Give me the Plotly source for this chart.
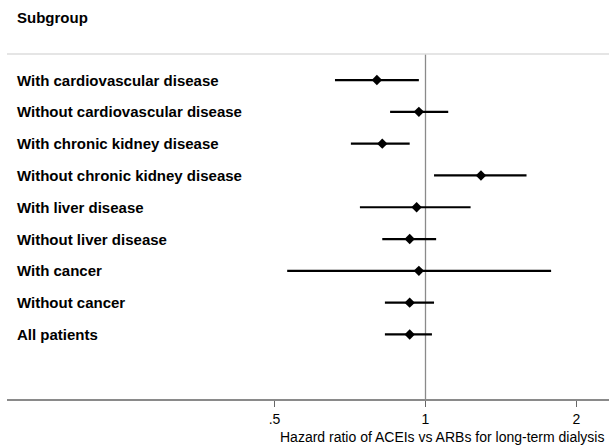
import math
import plotly.graph_objects as go

# Subgroup estimates: hazard ratio with 95% CI (ACEIs vs ARBs, long-term dialysis)
subgroups = [
    "With cardiovascular disease",
    "Without cardiovascular disease",
    "With chronic kidney disease",
    "Without chronic kidney disease",
    "With liver disease",
    "Without liver disease",
    "With cancer",
    "Without cancer",
    "All patients",
]
hr = [0.80, 0.97, 0.82, 1.29, 0.96, 0.93, 0.97, 0.93, 0.93]
ci_low = [0.66, 0.85, 0.71, 1.04, 0.74, 0.82, 0.53, 0.83, 0.83]
ci_high = [0.97, 1.11, 0.93, 1.59, 1.23, 1.05, 1.78, 1.04, 1.03]

tick_vals = [0.5, 1, 2]
tick_text = [".5", "1", "2"]

W, H = 609, 448
L, R, T, B = 7, 0, 54, 49

rows = list(range(len(subgroups)))
err_plus = [h - m for h, m in zip(ci_high, hr)]
err_minus = [m - l for m, l in zip(hr, ci_low)]

fig = go.Figure()
fig.add_trace(go.Scatter(
    x=hr, y=rows, mode="markers",
    marker=dict(symbol="diamond", size=8, color="black"),
    error_x=dict(type="data", symmetric=False, array=err_plus,
                 arrayminus=err_minus, width=0, thickness=2.2, color="black"),
    showlegend=False, hoverinfo="skip", cliponaxis=False,
))

# Reference line at HR = 1
fig.add_shape(type="line", xref="x", yref="paper", x0=1, x1=1, y0=0, y1=1,
              line=dict(color="#8a8a8a", width=1.3), layer="below")
# Header separator
fig.add_shape(type="line", xref="paper", yref="paper", x0=0, x1=1, y0=1, y1=1,
              line=dict(color="#dcdcdc", width=1.5))

font_family = "Liberation Sans, Arial, sans-serif"
pw = W - L - R
ph = H - T - B

for i, name in enumerate(subgroups):
    fig.add_annotation(x=(15 - L) / pw, xref="paper", y=i, yref="y",
                       text=f"<b>{name}</b>", showarrow=False,
                       xanchor="left", yanchor="middle",
                       font=dict(family=font_family, size=15, color="black"))

fig.add_annotation(x=(15 - L) / pw, xref="paper", y=1 + (T - 18) / ph, yref="paper",
                   text="<b>Subgroup</b>", showarrow=False,
                   xanchor="left", yanchor="middle",
                   font=dict(family=font_family, size=15, color="black"))

fig.add_annotation(x=(606 - L) / pw, xref="paper", y=-(437 - (H - B)) / ph, yref="paper",
                   text="Hazard ratio of ACEIs vs ARBs for long-term dialysis",
                   showarrow=False, xanchor="right", yanchor="middle",
                   font=dict(family=font_family, size=14, color="black"))

x_lo = 2 ** ((L - 425.5) / 151)
x_hi = 2 ** ((W - R - 425.5) / 151)

fig.update_layout(
    width=W, height=H,
    margin=dict(l=L, r=R, t=T, b=B, pad=0),
    paper_bgcolor="white", plot_bgcolor="white",
    xaxis=dict(type="log", range=[math.log10(x_lo), math.log10(x_hi)],
               tickvals=tick_vals, ticktext=tick_text,
               ticks="outside", ticklen=6, tickcolor="#666", tickwidth=1,
               showline=True, linecolor="#8a8a8a", linewidth=1.5,
               showgrid=False, zeroline=False,
               tickfont=dict(family=font_family, size=14, color="black")),
    yaxis=dict(range=[10.03, -0.82], showticklabels=False, showgrid=False,
               zeroline=False, showline=False),
)

fig.write_html("out.html")
